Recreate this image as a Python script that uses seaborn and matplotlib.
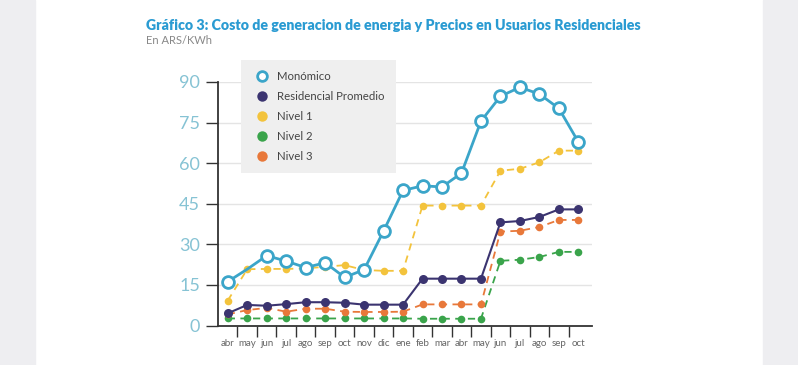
import numpy as np
import pandas as pd
import matplotlib
matplotlib.use("Agg")
import matplotlib.pyplot as plt
from matplotlib.lines import Line2D
import seaborn as sns

months = ["abr", "may", "jun", "jul", "ago", "sep", "oct", "nov", "dic", "ene",
          "feb", "mar", "abr", "may", "jun", "jul", "ago", "sep", "oct"]
monomico = [16.2, 20.8, 25.8, 23.8, 21.4, 23.2, 17.8, 20.6, 34.9, 49.9,
            51.6, 51.2, 56.3, 75.5, 84.7, 88.0, 85.5, 80.2, 67.8]
residencial = [4.5, 7.6, 7.3, 7.9, 8.6, 8.6, 8.4, 7.7, 7.7, 7.7,
               17.3, 17.3, 17.3, 17.3, 38.1, 38.6, 40.1, 42.9, 42.9]
nivel1 = [9.2, 20.8, 20.9, 20.9, 21.1, 21.7, 22.3, 20.5, 20.2, 20.2,
          44.3, 44.3, 44.3, 44.3, 57.2, 57.9, 60.3, 64.6, 64.6]
nivel2 = [2.6, 2.6, 2.6, 2.6, 2.6, 2.6, 2.6, 2.6, 2.6, 2.6,
          2.5, 2.5, 2.5, 2.5, 23.9, 24.3, 25.3, 27.2, 27.2]
nivel3 = [4.1, 5.7, 6.5, 5.1, 6.2, 6.2, 5.1, 5.0, 5.0, 5.1,
          7.8, 7.8, 7.8, 7.8, 34.7, 35.0, 36.4, 39.0, 39.0]
yticks = [0, 15, 30, 45, 60, 75, 90]

names = ["Monómico", "Residencial Promedio", "Nivel 1", "Nivel 2", "Nivel 3"]
series = [monomico, residencial, nivel1, nivel2, nivel3]
colors = {"Monómico": "#3ba5c9", "Residencial Promedio": "#3b3470",
          "Nivel 1": "#f3c33c", "Nivel 2": "#3aa44b", "Nivel 3": "#e8783a"}

df = pd.DataFrame({"x": list(range(len(months))) * len(names),
                   "valor": sum(series, []),
                   "serie": np.repeat(names, len(months))})

sns.set_style("white")
plt.rcParams["font.family"] = ["Lato", "DejaVu Sans"]

fig = plt.figure(figsize=(7.98, 3.65), dpi=100)
fig.patch.set_facecolor("white")
fig.patches.append(plt.Rectangle((0, 0), 35/798, 1, transform=fig.transFigure,
                                 color="#eeeef1", zorder=0))
fig.patches.append(plt.Rectangle((763/798, 0), 35/798, 1, transform=fig.transFigure,
                                 color="#eeeef1", zorder=0))

ax = fig.add_axes([218/798, 1 - 325.5/365, (592-218)/798, (325.5-81.9)/365])
ax.set_facecolor("white")

for name in ["Nivel 2", "Nivel 3", "Nivel 1"]:
    sns.lineplot(data=df[df.serie == name], x="x", y="valor", ax=ax,
                 color=colors[name], linestyle=(0, (4, 3)), linewidth=1.3,
                 marker="o", markersize=5.5, markeredgewidth=0, clip_on=False,
                 zorder=3)
sns.lineplot(data=df[df.serie == "Residencial Promedio"], x="x", y="valor", ax=ax,
             color=colors["Residencial Promedio"], linewidth=1.5,
             marker="o", markersize=6.5, markeredgewidth=0, clip_on=False, zorder=4)
sns.lineplot(data=df[df.serie == "Monómico"], x="x", y="valor", ax=ax,
             color=colors["Monómico"], linewidth=2,
             marker="o", markersize=8.5, markerfacecolor="white",
             markeredgecolor=colors["Monómico"], markeredgewidth=2,
             markevery=[i for i in range(len(months)) if i != 1],
             clip_on=False, zorder=5)

ax.set_xlim(-0.5, 18.7)
ax.set_ylim(0, 90)
ax.set_yticks(yticks)
ax.set_yticklabels([str(t) for t in yticks])
ax.set_xticks(range(len(months)))
ax.set_xticklabels(months)
ax.set_xticks(np.arange(0.5, len(months) - 1, 1.0), minor=True)
ax.tick_params(axis="x", which="major", length=0, pad=10, labelsize=7,
               labelcolor="#666666", bottom=True)
ax.tick_params(axis="x", which="minor", length=8, width=1, color="#333333",
               direction="out", bottom=True)
ax.tick_params(axis="y", which="major", length=9, width=1, color="#333333",
               direction="out", labelsize=13, labelcolor="#86c3d4", pad=4,
               left=True)
ax.grid(axis="y", color="#e4e4e4", linewidth=1)
ax.set_axisbelow(True)
for s in ["top", "right"]:
    ax.spines[s].set_visible(False)
for s in ["left", "bottom"]:
    ax.spines[s].set_color("#333333")
    ax.spines[s].set_linewidth(1.3)
ax.set_xlabel("")
ax.set_ylabel("")
if ax.get_legend() is not None:
    ax.get_legend().remove()

handles = []
for name in names:
    if name == "Monómico":
        h = Line2D([], [], linestyle="none", marker="o", markersize=7,
                   markerfacecolor="white", markeredgecolor=colors[name],
                   markeredgewidth=2)
    else:
        h = Line2D([], [], linestyle="none", marker="o", markersize=7.5,
                   markerfacecolor=colors[name], markeredgewidth=0)
    handles.append(h)
leg = fig.legend(handles, names, loc="upper left",
                 bbox_to_anchor=(241/798, 1 - 60/365), frameon=True,
                 fontsize=8.2, labelspacing=0.78, handletextpad=0.6,
                 borderpad=1.0, borderaxespad=0, handlelength=1.6)
leg.get_frame().set_facecolor("#efefef")
leg.get_frame().set_edgecolor("none")
leg.get_frame().set_alpha(1)
leg.get_frame().set_boxstyle("square", pad=0)
leg.set_zorder(10)
for t in leg.get_texts():
    t.set_color("#444444")

fig.text(146/798, 1 - 25/365,
         "Gráfico 3: Costo de generacion de energia y Precios en Usuarios Residenciales",
         fontsize=10.2, fontweight="heavy", color="#2a9bd2", va="center", ha="left")
fig.text(146/798, 1 - 41/365, "En ARS/KWh", fontsize=8, color="#888888",
         va="center", ha="left")

fig.savefig("out.png", dpi=100)
